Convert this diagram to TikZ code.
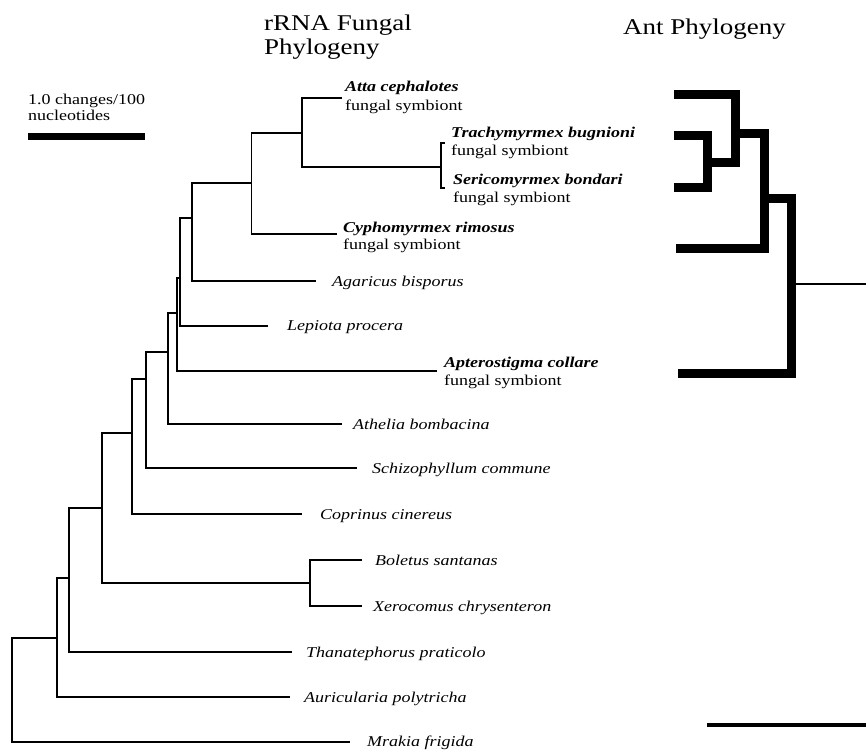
\documentclass[tikz,border=0pt]{standalone}
\usepackage{graphicx}
\usepackage{fontspec}
\setmainfont{Liberation Serif}
\newcommand{\sx}[1]{\scalebox{1.2}[1]{#1}}
\begin{document}
\begin{tikzpicture}[x=1pt,y=-1pt,
  br/.style={line width=1.3pt, line join=miter, line cap=butt},
  antbr/.style={line width=9pt, line join=miter, line cap=butt},
  lbl/.style={anchor=base west, inner sep=0pt, font=\fontsize{15}{18}\selectfont},
  sp/.style={anchor=base west, inner sep=0pt, font=\fontsize{15}{18}\selectfont\itshape},
  sym/.style={anchor=base west, inner sep=0pt, font=\fontsize{15}{18}\selectfont\bfseries\itshape},
  ttl/.style={anchor=base west, inner sep=0pt, font=\fontsize{22.5}{26}\selectfont}]
\useasboundingbox (0,0) rectangle (866,749);

% ---------- titles ----------
\node[ttl] (t1a) at (264,30.5) {\sx{rRNA Fungal}};
\node[ttl] (t1b) at (264,55) {\sx{Phylogeny}};
\node[ttl] (t2) at (623,35) {\sx{Ant Phylogeny}};

% ---------- scale bar (left) ----------
\node[lbl] (sc1) at (28,105) {\sx{1.0 changes/100}};
\node[lbl] (sc2) at (28,121) {\sx{nucleotides}};
\coordinate (sbl) at (28,136.5);
\coordinate (sbr) at (145,136.5);
\draw[line width=6.5pt] (sbl) -- (sbr);

% ---------- fungal tree: tips ----------
\coordinate (atta) at (342,98);
\coordinate (trtip) at (445,143);
\coordinate (srtip) at (445,188);
\coordinate (trsr) at (441,167);
\coordinate (cyph) at (337,234);
\coordinate (agar) at (316,281);
\coordinate (lepi) at (268,326);
\coordinate (apte) at (437,371);
\coordinate (athe) at (342,424);
\coordinate (schi) at (357,468);
\coordinate (copr) at (302,514);
\coordinate (bole) at (362,560);
\coordinate (xero) at (362,606);
\coordinate (than) at (292,652);
\coordinate (auri) at (290,697);
\coordinate (mrak) at (350,742);

% internal nodes
\coordinate (n302) at (302,133);
\coordinate (n251) at (251.5,183);
\coordinate (n192) at (192,218);
\coordinate (n180) at (180,278);
\coordinate (n177) at (177,313);
\coordinate (n168) at (168,352);
\coordinate (n146) at (146,379);
\coordinate (n132) at (132,433);
\coordinate (n310) at (310,583);
\coordinate (n102) at (102,508);
\coordinate (n69) at (69,578);
\coordinate (n57) at (57,638);
\coordinate (n12) at (12,690);

\draw[br] (trtip) -| (trsr) |- (srtip);
\draw[br] (atta) -| (n302) |- (trsr);
\draw[br] (n302) -| (n251) |- (cyph);
\draw[br] (n251) -| (n192) |- (agar);
\draw[br] (n192) -| (n180) |- (lepi);
\draw[br] (n180) -| (n177) |- (apte);
\draw[br] (n177) -| (n168) |- (athe);
\draw[br] (n168) -| (n146) |- (schi);
\draw[br] (n146) -| (n132) |- (copr);
\draw[br] (bole) -| (n310) |- (xero);
\draw[br] (n132) -| (n102) |- (n310);
\draw[br] (n102) -| (n69) |- (than);
\draw[br] (n69) -| (n57) |- (auri);
\draw[br] (n57) -| (n12) |- (mrak);

% ---------- fungal tree: labels ----------
\node[sym] (l-atta) at (345,92) {\sx{Atta cephalotes}};
\node[lbl] (l-atta2) at (345,110.5) {\sx{fungal symbiont}};
\node[sym] (l-trac) at (451,137) {\sx{Trachymyrmex bugnioni}};
\node[lbl] (l-trac2) at (451,155) {\sx{fungal symbiont}};
\node[sym] (l-seri) at (453,184) {\sx{Sericomyrmex bondari}};
\node[lbl] (l-seri2) at (453,202) {\sx{fungal symbiont}};
\node[sym] (l-cyph) at (343,232) {\sx{Cyphomyrmex rimosus}};
\node[lbl] (l-cyph2) at (343,249.5) {\sx{fungal symbiont}};
\node[sp] (l-agar) at (332,286.5) {\sx{Agaricus bisporus}};
\node[sp] (l-lepi) at (287,330.5) {\sx{Lepiota procera}};
\node[sym] (l-apte) at (444,367) {\sx{Apterostigma collare}};
\node[lbl] (l-apte2) at (444,385) {\sx{fungal symbiont}};
\node[sp] (l-athe) at (353,429) {\sx{Athelia bombacina}};
\node[sp] (l-schi) at (372,473) {\sx{Schizophyllum commune}};
\node[sp] (l-copr) at (320,519) {\sx{Coprinus cinereus}};
\node[sp] (l-bole) at (375,565) {\sx{Boletus santanas}};
\node[sp] (l-xero) at (373,611) {\sx{Xerocomus chrysenteron}};
\node[sp] (l-than) at (306,657) {\sx{Thanatephorus praticolo}};
\node[sp] (l-auri) at (304,702) {\sx{Auricularia polytricha}};
\node[sp] (l-mrak) at (367,746.5) {\sx{Mrakia frigida}};

% ---------- ant tree ----------
\coordinate (a1) at (674,94.5);
\coordinate (a2) at (674,135.5);
\coordinate (a3) at (674,187.5);
\coordinate (a4) at (676,248.5);
\coordinate (a5) at (678,373.5);
\coordinate (m1) at (707.5,162);
\coordinate (m2) at (735.5,133.5);
\coordinate (m3) at (764.5,198);
\coordinate (m4) at (791,284);
\coordinate (aroot) at (866,284);

\draw[antbr] (a2) -| (m1) |- (a3);
\draw[antbr] (a1) -| (m2) |- (m1);
\draw[antbr] (m2) -| (m3) |- (a4);
\draw[antbr] (m3) -| (m4) |- (a5);
\draw[br] (m4) -- (aroot);

% ---------- scale bar (right) ----------
\coordinate (rbl) at (707,725);
\coordinate (rbr) at (866,725);
\draw[line width=4pt] (rbl) -- (rbr);
\end{tikzpicture}
\end{document}
